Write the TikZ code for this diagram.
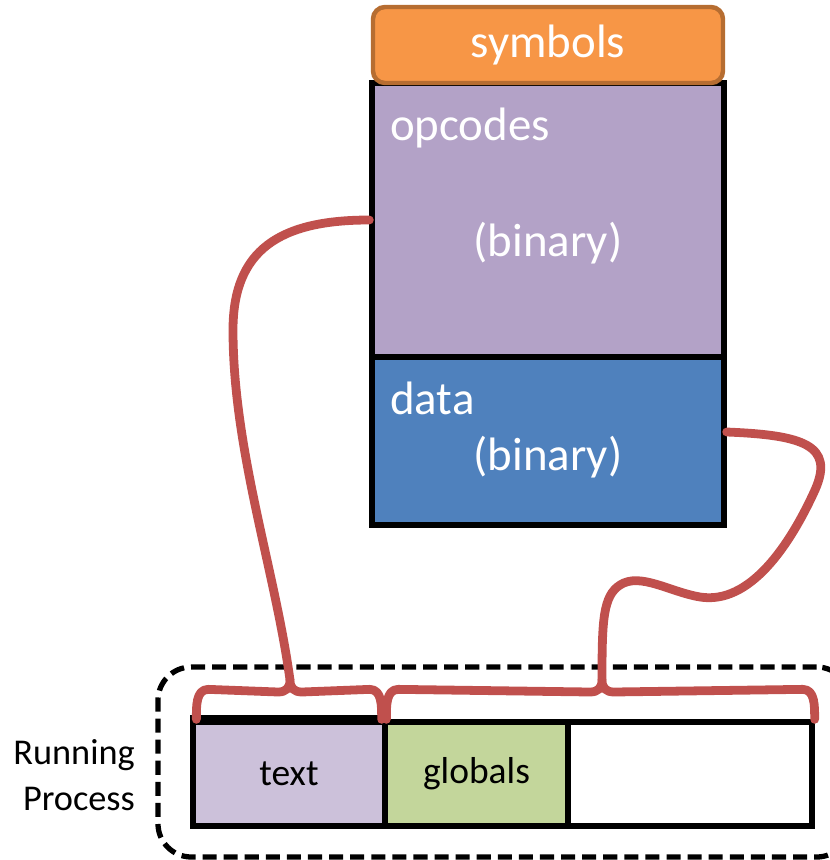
\documentclass[tikz,border=0pt]{standalone}
\usepackage{fontspec}
\setmainfont{Carlito}
\usetikzlibrary{calc}
\definecolor{symorange}{HTML}{F79646}
\definecolor{symedge}{HTML}{B66D31}
\definecolor{opcpurple}{HTML}{B3A2C7}
\definecolor{datablue}{HTML}{4F81BD}
\definecolor{textpurple}{HTML}{CCC1DA}
\definecolor{globgreen}{HTML}{C3D69B}
\definecolor{linkred}{HTML}{C0504D}
\tikzset{
  section/.style={draw=black, line width=4.5pt, minimum width=10.56cm, inner sep=0pt},
  bigtext/.style={text=white, font=\fontsize{40}{42}\selectfont, inner sep=0pt},
  cell/.style={draw=black, line width=4.5pt, minimum height=3.12cm, inner sep=0pt, font=\fontsize{32}{34}\selectfont},
  link/.style={draw=linkred, line width=7.5pt, line cap=round, line join=round},
}
\begin{document}
\begin{tikzpicture}[x=0.03cm,y=-0.03cm]
\useasboundingbox (0,0) rectangle (829,860);
%\draw[help lines, color=gray!30] (0,0) grid[step=50] (829,860);
% running process
\node[draw=black, line width=4.5pt, dash pattern=on 12pt off 6pt, rounded corners=1cm, minimum width=20.76cm, minimum height=5.7cm] (proc) at (504,762) {};
\node[align=right, anchor=east, font=\fontsize{31}{39}\selectfont] (run) at (139,775) {Running\\Process};
\node[cell, fill=textpurple, minimum width=5.76cm] (txt) at (289,774) {text};
\node[cell, fill=globgreen, minimum width=5.49cm] (glob) at (476.5,774) {globals};
\node[cell, fill=white, minimum width=7.32cm] (free) at (690,774) {};
\draw[line width=7pt] (txt.north west) -- (txt.north east);
% braces
\coordinate (t1) at (290,680);
\coordinate (t2) at (602,680);
\draw[link] ($(txt.north west)+(6,0)$) to[out=90,in=180] ++(12,-30) -- ($(t1)+(-12,12)$)
  .. controls +(8,0) and +(0,8) .. (t1) .. controls +(0,8) and +(-8,0) .. ($(t1)+(12,12)$)
  -- ($(txt.north east)+(-18,-30)$) to[out=0,in=90] ++(12,30);
\draw[link] ($(glob.north west)+(4,0)$) to[out=90,in=180] ++(12,-30) -- ($(t2)+(-12,12)$)
  .. controls +(8,0) and +(0,8) .. (t2) .. controls +(0,8) and +(-8,0) .. ($(t2)+(12,12)$)
  -- ($(free.north east)+(-12,-30)$) to[out=0,in=90] ++(12,30);
% executable
\node[section, fill=opcpurple, minimum height=8.22cm] (opc) at (548,220) {};
\node[section, fill=datablue, minimum height=5.04cm] (dat) at (548,441) {};
\node[draw=symedge, fill=symorange, line width=3.8pt, rounded corners=0.36cm, minimum width=10.5cm, minimum height=2.28cm, bigtext] (sym) at (548,45) {symbols};
\node[bigtext, anchor=west] (opclbl) at (390,128) {opcodes};
\node[bigtext] (opcbin) at (548,243) {(binary)};
\node[bigtext, anchor=west] (datlbl) at (390,398) {data};
\node[bigtext] (datbin) at (548,457) {(binary)};
% links
\draw[link] (opc.west) .. controls +(-90,0) and (233,250) .. (233,330)
  .. controls (233,450) and (275,570) .. (t1);
\draw[link] ($(dat.east)+(0,-9)$) .. controls +(76,3) and (835,445) .. (815,490)
  .. controls (790,545) and (750,605) .. (700,597)
  .. controls (670,592) and (640,572) .. (620,585)
  .. controls (603,596) and (602,620) .. (t2);
\end{tikzpicture}
\end{document}
